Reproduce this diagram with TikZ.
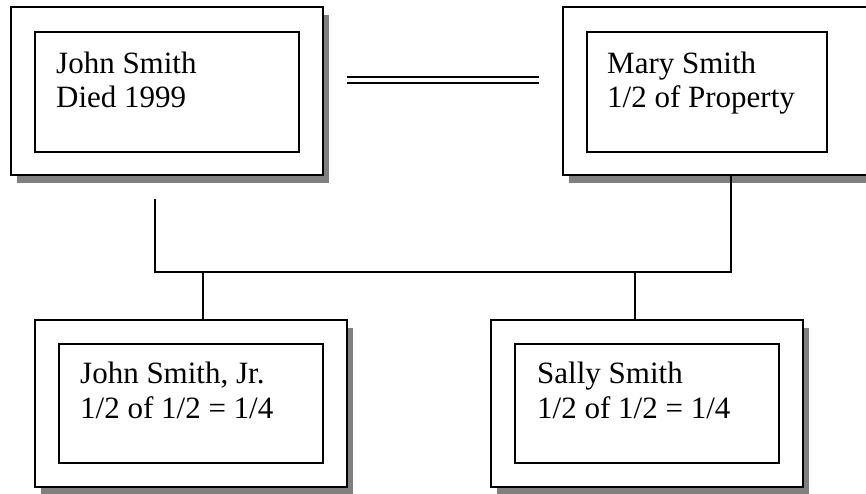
\documentclass[tikz,border=0pt]{standalone}
\usepackage{fontspec}
\setmainfont{Liberation Serif}
\usetikzlibrary{shadows}
\definecolor{shadowgray}{HTML}{808080}
\tikzset{
  frame/.style={draw=black, line width=2pt, fill=white, inner sep=0pt,
    minimum width=312pt, minimum height=168pt,
    general shadow={fill=shadowgray, shadow xshift=6pt, shadow yshift=-8pt}},
  panel/.style={draw=black, line width=2pt, fill=white, inner sep=0pt,
    minimum width=264pt, minimum height=120pt},
  label/.style={anchor=base west, inner sep=0pt, font=\fontsize{31pt}{35pt}\selectfont},
  link/.style={draw=black, line width=2pt, line cap=rect, line join=miter},
  marriage/.style={draw=black, line width=2pt, double=white, double distance=4pt}
}
\begin{document}
\begin{tikzpicture}[x=1pt, y=-1pt]
  \useasboundingbox (0,0) rectangle (866,493);
  \clip (0,0) rectangle (866,493);

  % parents
  \node[frame] (john) at (167,91) {};
  \node[panel] (johnin) at (167,92) {};
  \node[label] (johnA) at (56,73) {John Smith};
  \node[label] (johnB) at (56,107) {Died 1999};

  \node[frame] (mary) at (719,91) {};
  \node[panel, minimum width=240pt] (maryin) at (707,92) {};
  \node[label] (maryA) at (607,73) {Mary Smith};
  \node[label] (maryB) at (607,107) {1/2 of Property};

  % children
  \node[frame, minimum height=167pt] (jr) at (191,403.5) {};
  \node[panel, minimum height=119pt] (jrin) at (191,403.5) {};
  \node[label] (jrA) at (80,383) {John Smith, Jr.};
  \node[label] (jrB) at (80,418) {1/2 of 1/2 = 1/4};

  \node[frame, minimum height=167pt] (sally) at (647,403.5) {};
  \node[panel, minimum height=119pt] (sallyin) at (647,403.5) {};
  \node[label] (sallyA) at (537,383) {Sally Smith};
  \node[label] (sallyB) at (537,418) {1/2 of 1/2 = 1/4};

  % marriage line
  \coordinate (mL) at (347,80);
  \coordinate (mR) at (539,80);
  \draw[marriage] (mL) -- (mR);

  % descent lines
  \coordinate (johnfoot) at (155,200);
  \coordinate (barL) at (155,272);
  \coordinate (maryfoot) at ([xshift=12pt]mary.south);
  \coordinate (barR) at (maryfoot |- barL);
  \draw[link] (johnfoot) -- (barL) -- (barR) -- (maryfoot);

  \coordinate (jrtop) at ([xshift=12pt]jr.north);
  \coordinate (sallytop) at ([xshift=-12pt]sally.north);
  \draw[link] (jrtop) -- (jrtop |- barL);
  \draw[link] (sallytop) -- (sallytop |- barL);
\end{tikzpicture}
\end{document}
